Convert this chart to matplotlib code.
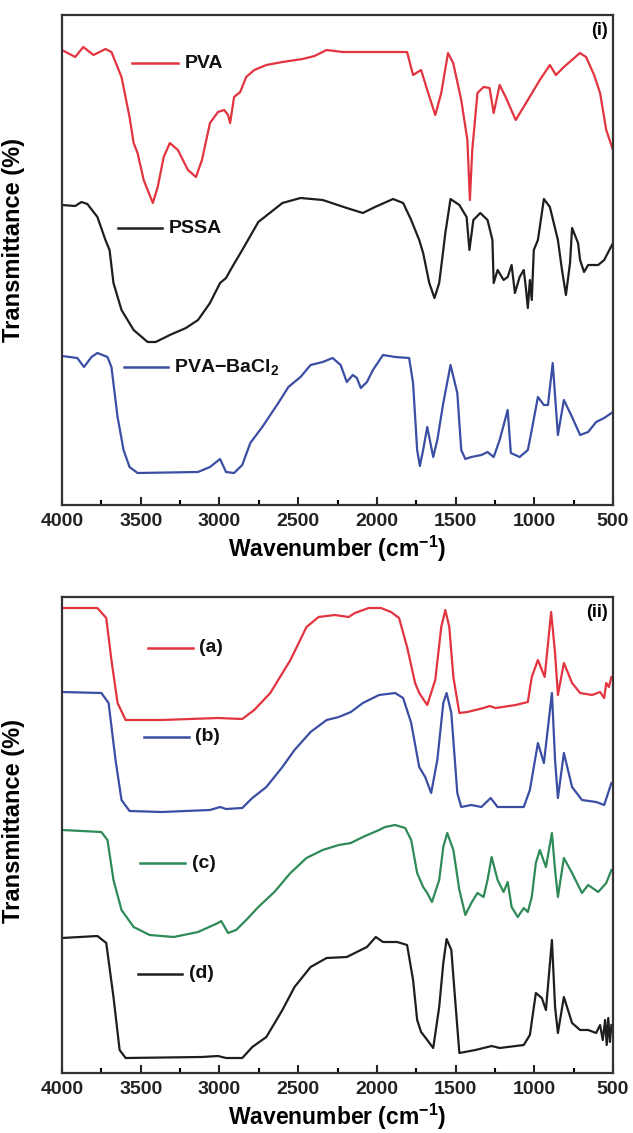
import numpy as np
import matplotlib
matplotlib.use("Agg")
import matplotlib.pyplot as plt
from matplotlib.ticker import MultipleLocator

plt.rcParams['font.family'] = ['Liberation Sans', 'DejaVu Sans']
plt.rcParams['font.weight'] = 'bold'
plt.rcParams['mathtext.fontset'] = 'custom'
plt.rcParams['mathtext.rm'] = 'Liberation Sans:bold'
plt.rcParams['mathtext.bf'] = 'Liberation Sans:bold'
plt.rcParams['mathtext.it'] = 'Liberation Sans:bold'
plt.rcParams['mathtext.default'] = 'rm'

# ---------------- Panel (i) data (wavenumber cm^-1, transmittance a.u. stacked) ----------------
pva_wn = [4000, 3916, 3865, 3800, 3724, 3686, 3622, 3571, 3545, 3520, 3481, 3456, 3423, 3392, 3354,
          3315, 3264, 3200, 3149, 3111, 3060, 3009, 2970, 2945, 2932, 2907, 2868, 2830, 2779, 2702,
          2600, 2472, 2396, 2319, 2217, 2038, 1808, 1770, 1719, 1680, 1629, 1591, 1548, 1515, 1464,
          1425, 1409, 1394, 1361, 1322, 1284, 1258, 1220, 1182, 1118, 1041, 965, 901, 863, 812,
          710, 671, 620, 582, 543, 500]
pva_t = [455, 448, 458, 450, 456, 453, 428, 388, 362, 352, 325, 315, 302, 318, 348,
         362, 355, 335, 328, 345, 382, 393, 395, 390, 382, 408, 413, 428, 435, 440,
         443, 446, 449, 455, 453, 453, 453, 430, 435, 415, 390, 412, 452, 442, 405,
         365, 305, 355, 412, 418, 417, 392, 420, 408, 385, 405, 425, 440, 430, 438,
         452, 448, 430, 412, 375, 355]

pssa_wn = [4000, 3916, 3877, 3839, 3775, 3724, 3698, 3673, 3622, 3545, 3456, 3405, 3315, 3213, 3136,
           3060, 2996, 2958, 2919, 2855, 2753, 2600, 2485, 2344, 2191, 2089, 2012, 1897, 1833, 1782,
           1731, 1706, 1667, 1634, 1604, 1578, 1565, 1532, 1476, 1430, 1412, 1387, 1343, 1297, 1266,
           1258, 1233, 1195, 1169, 1144, 1123, 1093, 1067, 1054, 1041, 1028, 1016, 1003, 977, 939,
           901, 850, 824, 799, 773, 760, 722, 709, 684, 658, 594, 556, 500]
pssa_t = [300, 299, 303, 301, 288, 265, 255, 222, 195, 175, 163, 163, 170, 177, 185,
          202, 222, 227, 238, 255, 283, 302, 307, 305, 297, 292, 298, 306, 302, 285,
          265, 252, 222, 207, 222, 255, 272, 306, 300, 288, 255, 285, 292, 285, 265,
          222, 235, 225, 228, 240, 212, 228, 235, 218, 197, 225, 205, 255, 265, 306,
          298, 265, 235, 210, 242, 277, 262, 245, 233, 240, 240, 245, 262]

ba_wn = [4000, 3903, 3860, 3813, 3775, 3711, 3686, 3647, 3609, 3571, 3520, 3136, 3060, 2996, 2958,
         2907, 2855, 2804, 2728, 2626, 2562, 2485, 2421, 2344, 2281, 2230, 2191, 2153, 2127, 2102,
         2063, 2025, 1961, 1884, 1795, 1770, 1744, 1727, 1706, 1680, 1642, 1616, 1578, 1532, 1489,
         1464, 1438, 1400, 1336, 1297, 1258, 1220, 1169, 1149, 1093, 1041, 1016, 977, 939, 913,
         883, 850, 812, 760, 709, 658, 607, 556, 500]
ba_t = [149, 147, 138, 148, 152, 148, 138, 88, 55, 38, 32, 33, 38, 46, 33,
        32, 40, 62, 78, 102, 118, 128, 140, 143, 147, 140, 123, 130, 127, 117,
        123, 135, 150, 148, 147, 122, 55, 39, 55, 78, 48, 65, 102, 140, 112,
        55, 46, 48, 50, 53, 48, 65, 95, 52, 48, 55, 75, 108, 100, 100,
        142, 70, 105, 88, 70, 73, 83, 87, 93]

# ---------------- Panel (ii) data ----------------
a_wn = [4000, 3775, 3719, 3686, 3647, 3596, 3366, 3009, 2855, 2779, 2677, 2549, 2447, 2370, 2268,
        2179, 2140, 2051, 1974, 1910, 1859, 1808, 1757, 1731, 1680, 1629, 1591, 1565, 1540, 1514,
        1476, 1425, 1322, 1284, 1245, 1118, 1041, 1016, 977, 934, 893, 868, 850, 812, 760,
        709, 633, 582, 556, 543, 526, 510]
a_t = [465, 465, 455, 413, 370, 353, 353, 355, 354, 363, 380, 413, 446, 456, 458,
       456, 460, 465, 465, 461, 455, 426, 390, 380, 368, 393, 446, 463, 446, 396,
       360, 361, 365, 367, 365, 368, 371, 396, 413, 396, 461, 420, 378, 410, 390,
       380, 378, 381, 375, 390, 386, 396]

b_wn = [4000, 3750, 3704, 3660, 3622, 3571, 3366, 3060, 2996, 2958, 2855, 2791, 2702, 2600, 2523,
        2421, 2319, 2242, 2165, 2089, 1986, 1884, 1833, 1782, 1731, 1693, 1655, 1616, 1578, 1557,
        1527, 1489, 1464, 1400, 1336, 1277, 1233, 1067, 1028, 977, 939, 888, 868, 850, 812,
        760, 697, 607, 556, 531, 510]
b_t = [381, 380, 370, 313, 273, 262, 261, 263, 266, 264, 265, 275, 286, 306, 323,
       341, 353, 356, 361, 370, 378, 380, 375, 350, 306, 296, 280, 313, 370, 380,
       360, 280, 266, 268, 266, 275, 266, 266, 283, 330, 310, 380, 313, 275, 320,
       286, 273, 271, 268, 280, 290]

c_wn = [4000, 3750, 3711, 3673, 3622, 3545, 3443, 3290, 3136, 3009, 2989, 2945, 2894, 2830, 2753,
        2651, 2549, 2447, 2344, 2242, 2165, 2089, 1986, 1948, 1884, 1820, 1782, 1744, 1706, 1680,
        1650, 1604, 1578, 1553, 1514, 1476, 1438, 1400, 1361, 1322, 1297, 1271, 1233, 1195, 1169,
        1144, 1105, 1067, 1041, 1016, 990, 965, 926, 888, 868, 850, 812, 760, 697, 658,
        594, 543, 510]
c_t = [243, 241, 233, 193, 163, 146, 138, 136, 141, 150, 152, 140, 143, 153, 166,
       181, 200, 215, 223, 228, 230, 236, 243, 246, 248, 245, 233, 200, 186, 180,
       171, 193, 226, 240, 223, 183, 158, 170, 180, 176, 193, 216, 193, 181, 191,
       166, 156, 165, 161, 176, 210, 223, 206, 240, 203, 176, 215, 200, 180, 188,
       181, 190, 203]

d_wn = [4000, 3775, 3719, 3673, 3634, 3596, 3111, 3009, 2958, 2855, 2791, 2702, 2600, 2523, 2421,
        2319, 2191, 2140, 2063, 2007, 1961, 1871, 1808, 1770, 1744, 1719, 1680, 1642, 1604, 1578,
        1557, 1527, 1501, 1476, 1374, 1271, 1220, 1067, 1028, 990, 952, 926, 888, 868, 850,
        812, 760, 709, 658, 607, 582, 565, 550, 540, 530, 520, 510]
d_t = [135, 137, 130, 76, 23, 15, 16, 17, 15, 15, 26, 36, 63, 86, 106,
       115, 116, 120, 126, 136, 131, 131, 128, 93, 53, 41, 33, 25, 66, 110,
       134, 123, 70, 20, 23, 27, 25, 28, 38, 80, 75, 63, 133, 66, 40,
       76, 50, 43, 43, 40, 48, 33, 53, 28, 55, 31, 48]

labels_i = ['PVA', 'PSSA', r'PVA$-$BaCl$_2$']
labels_ii = ['(a)', '(b)', '(c)', '(d)']
panel_tags = ['(i)', '(ii)']
xticks = [4000, 3500, 3000, 2500, 2000, 1500, 1000, 500]

RED = '#e2343f'
BLACK = '#1e1e1e'
BLUE = '#3a4ea3'
GREEN = '#2e8a57'

fig = plt.figure(figsize=(6.33, 11.33), dpi=100)
ax1 = fig.add_axes([62/633, 1-505/1133, 551/633, 490/1133])
ax2 = fig.add_axes([62/633, 1-1073/1133, 551/633, 476/1133])

def style(ax, ymax, tag, ylab_y, xlab_y):
    ax.set_xlim(4000, 500)
    ax.set_ylim(0, ymax)
    ax.set_xticks(xticks)
    ax.xaxis.set_minor_locator(MultipleLocator(250))
    ax.tick_params(axis='x', which='major', direction='in', length=6, width=1.5,
                   labelsize=14, pad=6, colors='#222222', top=False)
    ax.tick_params(axis='x', which='minor', direction='in', length=3.5, width=1.5, top=False)
    ax.tick_params(axis='y', left=False, labelleft=False)
    for lab in ax.get_xticklabels():
        lab.set_fontweight('bold')
    for s in ax.spines.values():
        s.set_linewidth(1.6)
        s.set_color('#333333')
    ax.set_xlabel(r'Wavenumber (cm$^{-1}$)', fontsize=16.5, fontweight='bold')
    ax.xaxis.set_label_coords(0.5, xlab_y)
    ax.set_ylabel('Transmittance (%)', fontsize=17, fontweight='bold')
    ax.yaxis.set_label_coords(-0.067, ylab_y)
    ax.text(0.99, 0.985, tag, transform=ax.transAxes, ha='right', va='top',
            fontsize=13, fontweight='bold')

def leg(ax, x0, x1, y, text, color):
    ax.plot([x0, x1], [y, y], transform=ax.transAxes, color=color, lw=1.8)
    ax.text(x1 + 0.012, y, text, transform=ax.transAxes, ha='left', va='center',
            fontsize=14, fontweight='bold', color='#111111')

lw = 1.6
ax1.plot(pva_wn, pva_t, color=RED, lw=lw, solid_joinstyle='round')
ax1.plot(pssa_wn, pssa_t, color=BLACK, lw=lw, solid_joinstyle='round')
ax1.plot(ba_wn, ba_t, color=BLUE, lw=lw, solid_joinstyle='round')
style(ax1, 490, panel_tags[0], 0.54, -0.058)
leg(ax1, 0.127, 0.211, 0.902, labels_i[0], RED)
leg(ax1, 0.102, 0.181, 0.565, labels_i[1], BLACK)
leg(ax1, 0.112, 0.192, 0.282, labels_i[2], BLUE)

ax2.plot(a_wn, a_t, color=RED, lw=lw, solid_joinstyle='round')
ax2.plot(b_wn, b_t, color=BLUE, lw=lw, solid_joinstyle='round')
ax2.plot(c_wn, c_t, color=GREEN, lw=lw, solid_joinstyle='round')
ax2.plot(d_wn, d_t, color=BLACK, lw=lw, solid_joinstyle='round')
style(ax2, 476, panel_tags[1], 0.53, -0.060)
leg(ax2, 0.156, 0.237, 0.893, labels_ii[0], RED)
leg(ax2, 0.148, 0.230, 0.706, labels_ii[1], BLUE)
leg(ax2, 0.142, 0.224, 0.441, labels_ii[2], GREEN)
leg(ax2, 0.138, 0.218, 0.208, labels_ii[3], BLACK)

fig.savefig('out.png', dpi=100)
